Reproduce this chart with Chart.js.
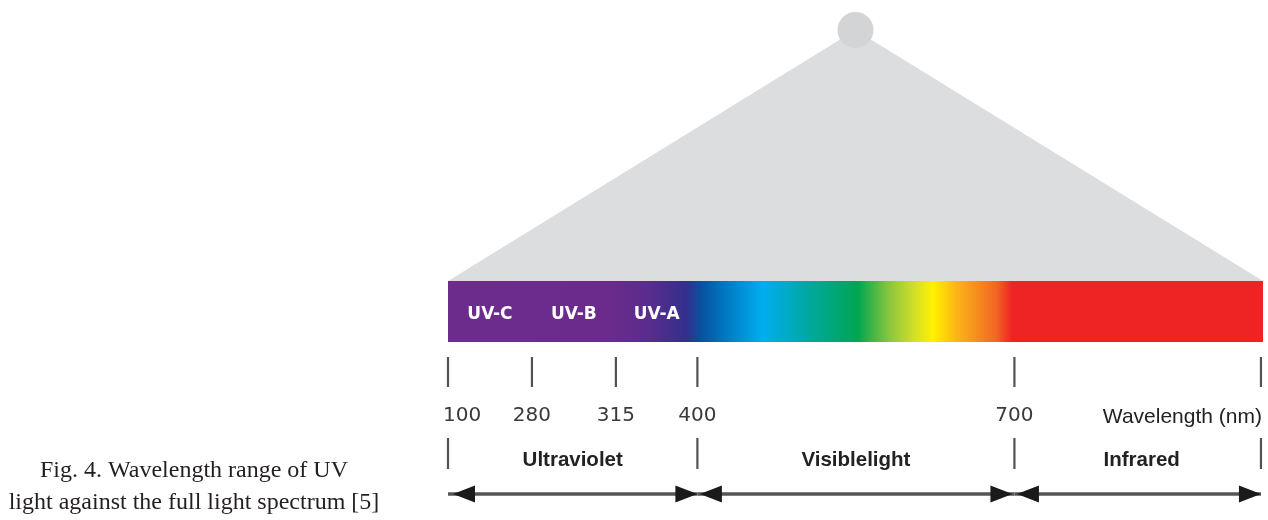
<!DOCTYPE html>
<html>
<head>
<meta charset="utf-8">
<script src="https://cdn.jsdelivr.net/npm/chart.js@4.4.1/dist/chart.umd.min.js"></script>
<style>
html,body{margin:0;padding:0;background:#ffffff;}
#wrap{position:relative;width:1268px;height:520px;}
canvas{display:block;}
</style>
</head>
<body>
<div id="wrap"><canvas id="c" width="1268" height="520"></canvas></div>
<script>
// ---- data ----
const wavelengthTicks = [100, 280, 315, 400, 700];          // nm tick labels
const tickPositionPct = [0, 10.3, 20.6, 30.6, 69.5];        // where each tick sits along the spectrum bar (% of bar)
const spectrumEndPct = 99.75;                                // right end tick (no label)
const uvBandLabels = ['UV-C', 'UV-B', 'UV-A'];               // between consecutive ticks 100-280, 280-315, 315-400
const regionLabels = ['Ultraviolet', 'Visiblelight', 'Infrared'];
const regionFrom = [100, 400, 700];
const regionTo = [400, 700, null];                           // null = end of spectrum
const axisTitle = 'Wavelength (nm)';
const captionLines = ['Fig. 4. Wavelength range of UV', 'light against the full light spectrum [5]'];

// ---- styling / layout (not data) ----
const spectrumStops = [
  [0, '#6b2c8c'], [19.5, '#6b2b8c'], [24.5, '#5a2d8c'], [29.2, '#352f8c'],
  [31.0, '#0b4f9f'], [33.5, '#0072bc'], [38.6, '#00aeef'], [44.2, '#00a8a0'],
  [50.3, '#00a651'], [54.2, '#8cc63f'], [57.3, '#d4df26'], [59.5, '#fff200'],
  [62.4, '#fbb417'], [64.5, '#f7941d'], [67.3, '#f26522'], [69.2, '#ee2424'], [100, '#ee2424']
];
const L = { apexPct: 50, apexY: 30, barTop: 281, barBottom: 342,
  tick1Top: 357, tick1Bottom: 387, numBase: 421,
  tick2Top: 438, tick2Bottom: 469, regionBase: 466, arrowY: 494, uvBase: 319 };

function posOf(w){ return w === null ? spectrumEndPct : tickPositionPct[wavelengthTicks.indexOf(w)]; }

const upperTicks = tickPositionPct.concat([spectrumEndPct]);
const lowerTicks = regionFrom.map(posOf).concat([spectrumEndPct]);

const datasets = [];
upperTicks.forEach(p => datasets.push({
  type:'line', data:[{x:p,y:L.tick1Top},{x:p,y:L.tick1Bottom}], borderColor:'#525252', borderWidth:2.2,
  pointRadius:0, fill:false, order:1, clip:false
}));
lowerTicks.forEach(p => datasets.push({
  type:'line', data:[{x:p,y:L.tick2Top},{x:p,y:L.tick2Bottom}], borderColor:'#525252', borderWidth:2.2,
  pointRadius:0, fill:false, order:1, clip:false
}));
regionFrom.forEach((w,i) => datasets.push({
  type:'line', data:[{x:posOf(w),y:L.arrowY},{x:posOf(regionTo[i]),y:L.arrowY}], borderColor:'#555555', borderWidth:3.5,
  pointRadius:0, fill:false, order:1, clip:false
}));
datasets.push({
  type:'line', data:[{x:0,y:L.barTop},{x:100,y:L.barTop}], borderWidth:0, pointRadius:0,
  fill:{value:L.barBottom}, order:8,
  backgroundColor:(ctx)=>{
    const ch = ctx.chart; if(!ch.chartArea) return '#6b2c8c';
    const xs = ch.scales.x;
    const g = ch.ctx.createLinearGradient(xs.getPixelForValue(0),0,xs.getPixelForValue(100),0);
    spectrumStops.forEach(([p,c]) => g.addColorStop(p/100, c));
    return g;
  }
});
datasets.push({
  type:'line', data:[{x:L.apexPct,y:L.apexY}], showLine:false, pointRadius:18, pointHoverRadius:18,
  pointBackgroundColor:'#d3d4d6', pointBorderWidth:0, order:9, clip:false
});
datasets.push({
  type:'line', data:[{x:0,y:L.barTop},{x:L.apexPct,y:L.apexY},{x:100,y:L.barTop}], borderWidth:0, pointRadius:0,
  fill:{value:L.barTop}, backgroundColor:'#dcdddf', order:10
});

const diagramPlugin = {
  id:'diagram',
  afterDatasetsDraw(chart){
    const {ctx, scales:{x, y}} = chart;
    ctx.save();
    const ay = y.getPixelForValue(L.arrowY);
    // arrow heads
    ctx.fillStyle = '#1a1a1a';
    const head = (tip, dir) => {
      ctx.beginPath();
      ctx.moveTo(tip, ay);
      ctx.lineTo(tip - dir*22, ay - 8.5);
      ctx.lineTo(tip - dir*22, ay + 8.5);
      ctx.closePath(); ctx.fill();
    };
    regionFrom.forEach((w,i) => {
      head(x.getPixelForValue(posOf(w)) + (i===0?5:2.5), -1);
      head(x.getPixelForValue(posOf(regionTo[i])) - (i===1?2:0), 1);
    });
    // UV band labels
    ctx.fillStyle = '#ffffff';
    ctx.font = 'bold 17px "DejaVu Sans"';
    ctx.textAlign = 'center'; ctx.textBaseline = 'alphabetic';
    uvBandLabels.forEach((t,i) => {
      const cx = (x.getPixelForValue(tickPositionPct[i]) + x.getPixelForValue(tickPositionPct[i+1]))/2;
      ctx.fillText(t, cx, y.getPixelForValue(L.uvBase));
    });
    // wavelength numbers
    ctx.fillStyle = '#3a3a3a';
    ctx.font = '20px "DejaVu Sans"';
    const nb = y.getPixelForValue(L.numBase);
    wavelengthTicks.forEach((w,i) => {
      const px = x.getPixelForValue(tickPositionPct[i]);
      if(i===0){ ctx.textAlign='left'; ctx.fillText(String(w), px-5, nb); }
      else { ctx.textAlign='center'; ctx.fillText(String(w), px, nb); }
    });
    ctx.fillStyle = '#222222';
    ctx.font = '21px "Liberation Sans"';
    ctx.textAlign = 'right';
    ctx.fillText(axisTitle, x.getPixelForValue(spectrumEndPct)+1, nb+2);
    // region labels
    ctx.font = 'bold 20.5px "Liberation Sans"';
    ctx.textAlign = 'center';
    regionLabels.forEach((t,i) => {
      const cx = (x.getPixelForValue(posOf(regionFrom[i])) + x.getPixelForValue(posOf(regionTo[i])))/2;
      ctx.fillText(t, cx + (i===2?4:0), y.getPixelForValue(L.regionBase));
    });
    // caption
    ctx.fillStyle = '#231f20';
    ctx.font = '24px "Liberation Serif"';
    ctx.textAlign = 'center';
    ctx.fillText(captionLines[0], 194, 477);
    ctx.fillText(captionLines[1], 194, 509);
    ctx.restore();
  }
};

new Chart(document.getElementById('c'), {
  type:'line',
  data:{ datasets },
  options:{
    responsive:false, animation:false, devicePixelRatio:1,
    layout:{ autoPadding:false, padding:{ left:448, right:5, top:0, bottom:0 } },
    plugins:{ legend:{display:false}, tooltip:{enabled:false} },
    events:[],
    scales:{
      x:{ type:'linear', min:0, max:100, display:false },
      y:{ type:'linear', min:0, max:520, reverse:true, display:false }
    }
  },
  plugins:[diagramPlugin]
});
</script>
</body>
</html>
